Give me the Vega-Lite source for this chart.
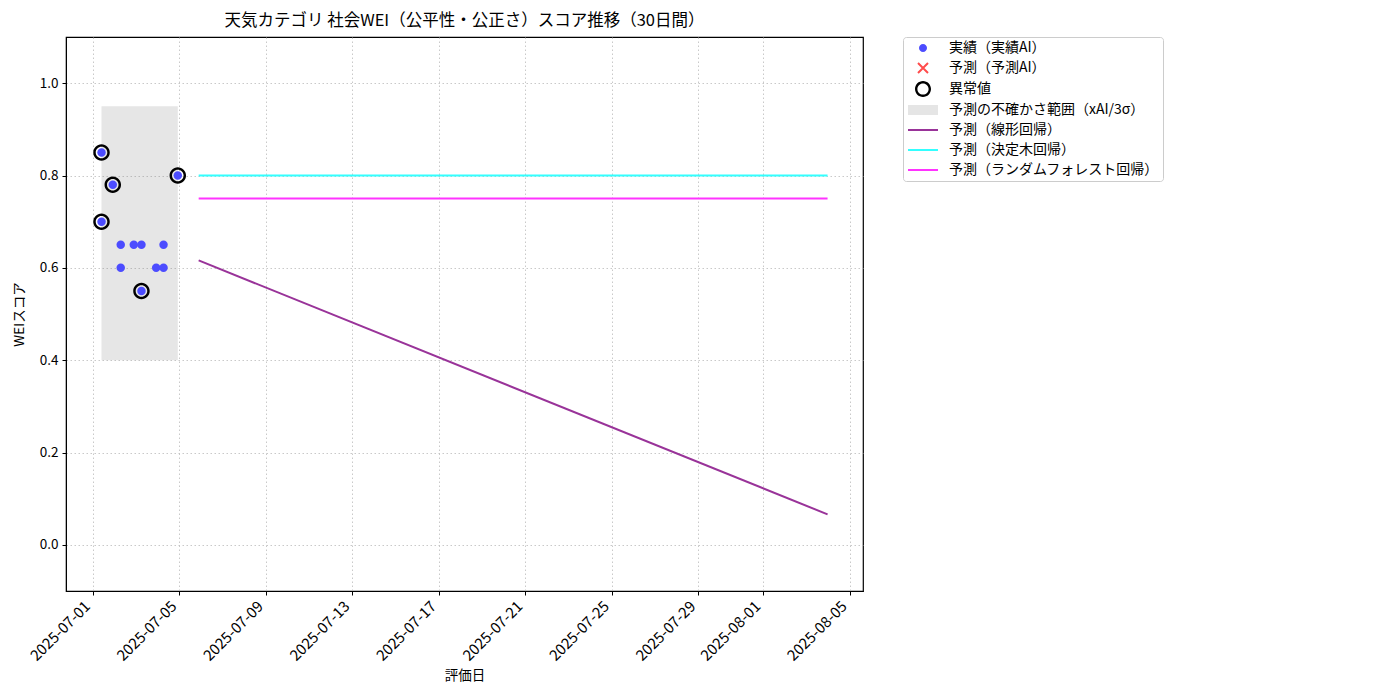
{
  "$schema": "https://vega.github.io/schema/vega-lite/v6.json",
  "width": 797,
  "height": 554,
  "autosize": {"type": "none"},
  "padding": {"left": 66, "top": 37, "right": 537, "bottom": 109},
  "title": {
    "text": "天気カテゴリ 社会WEI（公平性・公正さ）スコア推移（30日間）",
    "fontSize": 16.5,
    "fontWeight": "normal",
    "color": "black",
    "anchor": "middle",
    "offset": 7
  },
  "datasets": {
    "actual": [
      {"date": "2025-07-01T09:40:00", "score": 0.85, "outlier": true},
      {"date": "2025-07-01T09:40:00", "score": 0.70, "outlier": true},
      {"date": "2025-07-01T22:10:00", "score": 0.78, "outlier": true},
      {"date": "2025-07-02T07:00:00", "score": 0.65, "outlier": false},
      {"date": "2025-07-02T07:00:00", "score": 0.60, "outlier": false},
      {"date": "2025-07-02T21:30:00", "score": 0.65, "outlier": false},
      {"date": "2025-07-03T06:00:00", "score": 0.65, "outlier": false},
      {"date": "2025-07-03T06:00:00", "score": 0.55, "outlier": true},
      {"date": "2025-07-03T22:20:00", "score": 0.60, "outlier": false},
      {"date": "2025-07-04T06:30:00", "score": 0.65, "outlier": false},
      {"date": "2025-07-04T06:30:00", "score": 0.60, "outlier": false},
      {"date": "2025-07-04T22:20:00", "score": 0.80, "outlier": true}
    ],
    "band": [
      {"start": "2025-07-01T09:40:00", "end": "2025-07-04T22:20:00", "lower": 0.40, "upper": 0.95}
    ],
    "forecast": [
      {"date": "2025-07-05T21:30:00", "score": 0.616, "series": "予測（線形回帰）"},
      {"date": "2025-08-03T23:30:00", "score": 0.066, "series": "予測（線形回帰）"},
      {"date": "2025-07-05T21:30:00", "score": 0.80, "series": "予測（決定木回帰）"},
      {"date": "2025-08-03T23:30:00", "score": 0.80, "series": "予測（決定木回帰）"},
      {"date": "2025-07-05T21:30:00", "score": 0.75, "series": "予測（ランダムフォレスト回帰）"},
      {"date": "2025-08-03T23:30:00", "score": 0.75, "series": "予測（ランダムフォレスト回帰）"}
    ]
  },
  "layer": [
    {
      "data": {"name": "band"},
      "mark": {"type": "rect", "color": "#808080", "opacity": 0.2},
      "encoding": {
        "x": {
          "field": "start",
          "type": "temporal",
          "title": "評価日",
          "scale": {
            "domain": [
              {"year": 2025, "month": 6, "date": 29, "hours": 18, "minutes": 15},
              {"year": 2025, "month": 8, "date": 5, "hours": 14, "minutes": 50}
            ]
          },
          "axis": {
            "values": [
              {"year": 2025, "month": 7, "date": 1},
              {"year": 2025, "month": 7, "date": 5},
              {"year": 2025, "month": 7, "date": 9},
              {"year": 2025, "month": 7, "date": 13},
              {"year": 2025, "month": 7, "date": 17},
              {"year": 2025, "month": 7, "date": 21},
              {"year": 2025, "month": 7, "date": 25},
              {"year": 2025, "month": 7, "date": 29},
              {"year": 2025, "month": 8, "date": 1},
              {"year": 2025, "month": 8, "date": 5}
            ],
            "format": "%Y-%m-%d",
            "labelAngle": -45,
            "labelAlign": "right",
            "labelBaseline": "bottom",
            "labelOverlap": false,
            "labelPadding": 14,
            "labelFontSize": 15,
            "titlePadding": 5
          }
        },
        "x2": {"field": "end"},
        "y": {
          "field": "lower",
          "type": "quantitative",
          "title": "WEIスコア",
          "scale": {"domain": [-0.1, 1.1], "nice": false, "zero": false},
          "axis": {"values": [0, 0.2, 0.4, 0.6, 0.8, 1.0], "format": ".1f", "labelFontSize": 13.5, "titlePadding": 13}
        },
        "y2": {"field": "upper"}
      }
    },
    {
      "data": {"name": "actual"},
      "transform": [{"calculate": "'実績（実績AI）'", "as": "series"}],
      "mark": {"type": "point", "filled": true, "size": 112, "opacity": 1},
      "encoding": {
        "x": {"field": "date", "type": "temporal"},
        "y": {"field": "score", "type": "quantitative"},
        "color": {
          "field": "series",
          "type": "nominal",
          "scale": {
            "domain": [
              "実績（実績AI）",
              "予測（予測AI）",
              "異常値",
              "予測の不確かさ範囲（xAI/3σ）",
              "予測（線形回帰）",
              "予測（決定木回帰）",
              "予測（ランダムフォレスト回帰）"
            ],
            "range": ["#4c4cff", "#ff4c4c", "#000000", "#e5e5e5", "#993399", "#33ffff", "#ff33ff"]
          },
          "legend": {
            "title": null,
            "orient": "right",
            "offset": 40,
            "padding": 4,
            "strokeColor": "#cccccc",
            "fillColor": "white",
            "cornerRadius": 3,
            "symbolSize": 100,
            "symbolOpacity": 1,
            "symbolStrokeWidth": 0,
            "symbolOffset": 9,
            "labelOffset": 19,
            "labelFontSize": 14,
            "labelColor": "black",
            "rowPadding": 6,
            "labelLimit": 400
          }
        },
        "shape": {
          "field": "series",
          "type": "nominal",
          "scale": {
            "domain": [
              "実績（実績AI）",
              "予測（予測AI）",
              "異常値",
              "予測の不確かさ範囲（xAI/3σ）",
              "予測（線形回帰）",
              "予測（決定木回帰）",
              "予測（ランダムフォレスト回帰）"
            ],
            "range": [
              "M-0.8,0A0.8,0.8 0 1,0 0.8,0A0.8,0.8 0 1,0 -0.8,0Z",
              "M-0.86,-1.14L1.14,0.86L0.86,1.14L-1.14,-0.86ZM-0.86,1.14L-1.14,0.86L0.86,-1.14L1.14,-0.86Z",
              "M-1.6,0A1.6,1.6 0 1,0 1.6,0A1.6,1.6 0 1,0 -1.6,0ZM-1.12,0A1.12,1.12 0 1,1 1.12,0A1.12,1.12 0 1,1 -1.12,0Z",
              "M-3,-1H3V1H-3Z",
              "M-3,-0.2H3V0.2H-3Z",
              "M-3,-0.2H3V0.2H-3Z",
              "M-3,-0.2H3V0.2H-3Z"
            ]
          },
          "legend": {
            "title": null,
            "orient": "right",
            "offset": 40,
            "padding": 4,
            "strokeColor": "#cccccc",
            "fillColor": "white",
            "cornerRadius": 3,
            "symbolSize": 100,
            "symbolOpacity": 1,
            "symbolStrokeWidth": 0,
            "symbolOffset": 9,
            "labelOffset": 19,
            "labelFontSize": 14,
            "labelColor": "black",
            "rowPadding": 6,
            "labelLimit": 400
          }
        }
      }
    },
    {
      "data": {"name": "actual"},
      "transform": [
        {"filter": "datum.outlier"},
        {"calculate": "'異常値'", "as": "series"}
      ],
      "mark": {"type": "point", "filled": true, "size": 106, "opacity": 1},
      "encoding": {
        "x": {"field": "date", "type": "temporal"},
        "y": {"field": "score", "type": "quantitative"},
        "color": {"field": "series", "type": "nominal"},
        "shape": {"field": "series", "type": "nominal"}
      }
    },
    {
      "data": {"name": "forecast"},
      "mark": {"type": "line", "strokeWidth": 2, "opacity": 1},
      "encoding": {
        "x": {"field": "date", "type": "temporal"},
        "y": {"field": "score", "type": "quantitative"},
        "color": {"field": "series", "type": "nominal"},
        "detail": {"field": "series"}
      }
    }
  ],
  "config": {
    "font": "Noto Sans CJK JP",
    "view": {"stroke": "black", "strokeWidth": 1.2},
    "axis": {
      "titleFontSize": 13.5,
      "labelColor": "black",
      "titleColor": "black",
      "titleFontWeight": "normal",
      "domainColor": "black",
      "tickColor": "black",
      "tickSize": 4,
      "labelPadding": 4,
      "gridColor": "#bbbbbb",
      "gridDash": [1.5, 2.5],
      "gridWidth": 0.8
    }
  }
}
